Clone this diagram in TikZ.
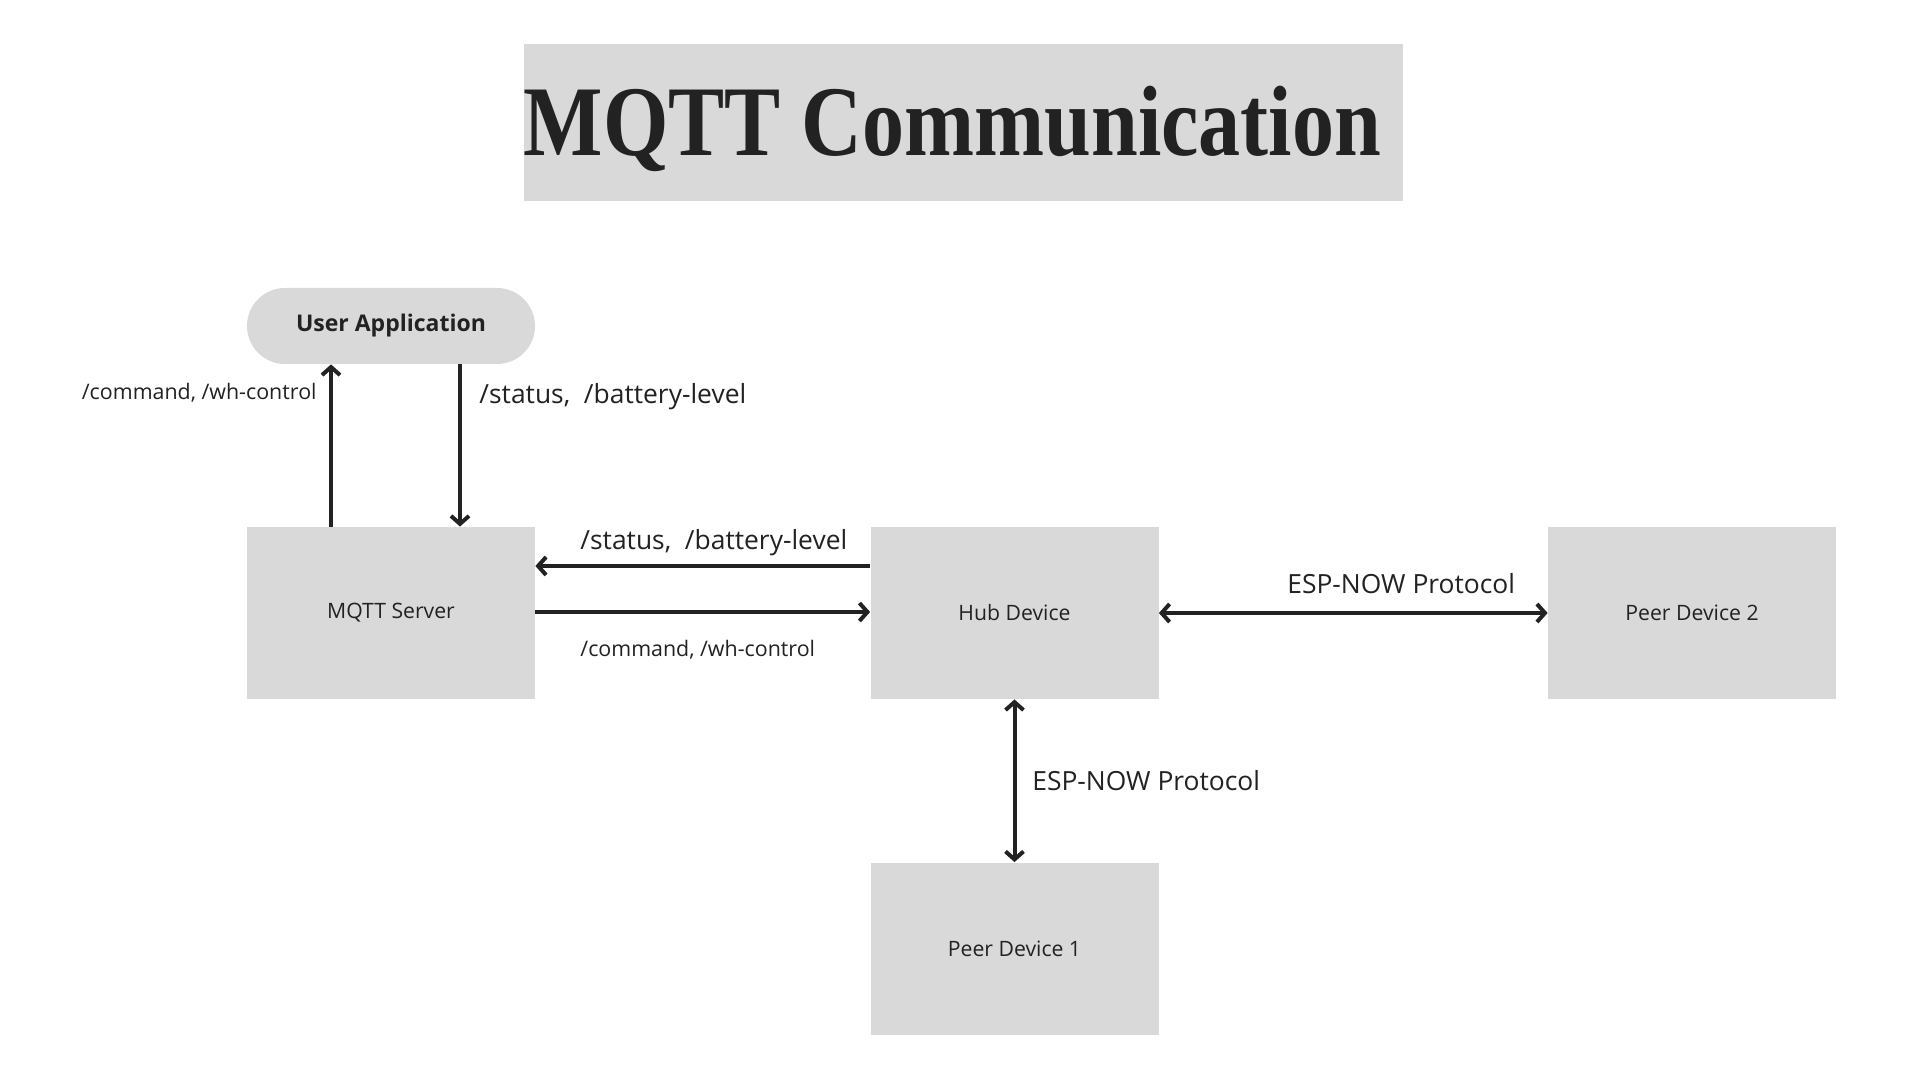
\documentclass[tikz,border=0pt]{standalone}
\usepackage{fontspec}
\setmainfont{Open Sans}
\newfontfamily\titlefont{Liberation Serif}
\usetikzlibrary{arrows.meta}
\definecolor{boxgray}{HTML}{D9D9D9}
\definecolor{ink}{HTML}{222222}
\begin{document}
\begin{tikzpicture}[x=0.5pt,y=-0.5pt,
  box/.style={fill=boxgray, draw=none, minimum width=144pt, minimum height=86pt, inner sep=0pt, text=ink, font=\fontsize{10.6}{12}\selectfont},
  pill/.style={fill=boxgray, draw=none, minimum width=144pt, minimum height=38pt, rounded corners=19pt, inner sep=0pt, text=ink, font=\bfseries\fontsize{11.5}{13}\selectfont},
  biglabel/.style={inner sep=0pt, text=ink, font=\fontsize{13.2}{15}\selectfont},
  smalllabel/.style={inner sep=0pt, text=ink, font=\fontsize{10.7}{12}\selectfont},
  conn/.style={draw=ink, line width=2pt, -{Straight Barb[length=4pt,width=9pt]}},
  dconn/.style={draw=ink, line width=2pt, {Straight Barb[length=4pt,width=9pt]}-{Straight Barb[length=4pt,width=9pt]}}
]
\useasboundingbox[fill=white] (0,0) rectangle (1920,1080);

% title
\node[fill=boxgray, minimum width=439.5pt, minimum height=78.5pt, inner sep=0pt] (titlebox) at (963.5,122.5) {};
\node[anchor=base, inner sep=0pt, text=ink] (titletext) at (952.5,156)
  {\scalebox{0.858}[1.02]{\titlefont\bfseries\fontsize{49}{55}\selectfont MQTT Communication}};

% nodes
\node[pill] (user) at (391,326) {User Application};
\node[box] (mqtt) at (391,613) {MQTT Server};
\node[box] (hub) at (1014.5,613) {Hub Device};
\node[box] (peer2) at (1692,613) {Peer Device 2};
\node[box] (peer1) at (1014.5,948.5) {Peer Device 1};

% connectors
\draw[conn] (mqtt.north -| 331,0) -- (user.south -| 331,0);
\draw[conn] (user.south -| 460,0) -- (mqtt.north -| 460,0);
\draw[conn] (hub.west |- 0,566) -- (mqtt.east |- 0,566);
\draw[conn] (mqtt.east |- 0,612) -- (hub.west |- 0,612);
\draw[dconn] (hub.east) -- (peer2.west);
\draw[dconn] (hub.south) -- (peer1.north);

% labels
\node[smalllabel, anchor=east] (l1) at (317,393) {/command, /wh-control};
\node[biglabel, anchor=west] (l2) at (479,397) {/status,\ \ /battery-level};
\node[biglabel, anchor=west] (l3) at (580,543) {/status,\ \ /battery-level};
\node[smalllabel, anchor=west] (l4) at (580,650) {/command, /wh-control};
\node[biglabel, anchor=west] (l5) at (1287,584) {ESP-NOW Protocol};
\node[biglabel, anchor=west] (l6) at (1032,781) {ESP-NOW Protocol};
\end{tikzpicture}
\end{document}
